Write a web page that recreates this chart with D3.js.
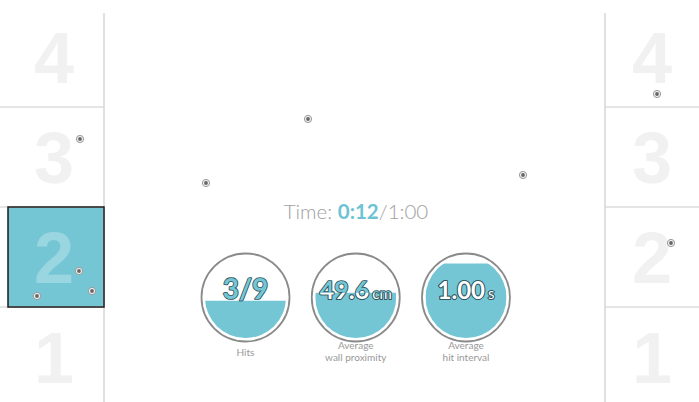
<!DOCTYPE html>
<html><head><meta charset="utf-8">
<script src="https://cdn.jsdelivr.net/npm/d3@7"></script>
<style>body{margin:0;background:#fff}svg{display:block;font-family:Lato,"Open Sans",sans-serif}</style>
</head><body><svg id="c" width="699" height="402"></svg>
<script>
// ---- data ----
const lanes = [4, 3, 2, 1];
const activeLeftLane = 2;
// hit points in court units (x: 0..699, y: 0..402)
const hitPointsX = [80, 79, 92, 37, 308, 206, 523, 657, 671];
const hitPointsY = [139, 271, 291, 296, 119, 183, 175, 94, 243];
const timeElapsed = "0:12";
const timeTotal = "1:00";
const gaugeNames = ["Hits", "Average wall proximity", "Average hit interval"];
const gaugeLabelLines = [["Hits"], ["Average", "wall proximity"], ["Average", "hit interval"]];
const gaugeValues = ["3/9", "49.6", "1.00"];
const gaugeUnits = ["", "cm", "s"];
const gaugeFill = [0.46, 0.56, 0.92];
const gaugeFontSize = [28, 25, 24];

// ---- drawing ----
const W = 699, H = 402;
const teal = "#74c6d5";
const svg = d3.select("#c");
const x = d3.scaleLinear().domain([0, 699]).range([0, W]);
const y = d3.scaleLinear().domain([0, 402]).range([0, H]);
const laneY = d3.scaleBand().domain(lanes).range([7, 407]);
const sides = [{name: "left", x0: 0, x1: 104}, {name: "right", x0: 605, x1: 699}];

sides.forEach(s => {
  const g = svg.append("g");
  if (s.name === "left") {
    g.append("rect").attr("x", 8).attr("y", laneY(activeLeftLane))
      .attr("width", s.x1 - 8).attr("height", laneY.bandwidth())
      .attr("fill", teal);
  }
  lanes.slice(1).forEach(l => {
    g.append("line").attr("x1", s.x0).attr("x2", s.x1)
      .attr("y1", laneY(l)).attr("y2", laneY(l))
      .attr("stroke", "#dcdcdc").attr("stroke-width", 1.5);
  });
  const vx = s.name === "left" ? s.x1 : s.x0;
  g.append("line").attr("x1", vx).attr("x2", vx).attr("y1", 13).attr("y2", H)
    .attr("stroke", "#d6d6d6").attr("stroke-width", 1.5);
  g.selectAll("text.n").data(lanes).join("text")
    .attr("x", (s.x0 + s.x1) / 2 + (s.name === "left" ? 2 : 0))
    .attr("y", d => laneY(d) + laneY.bandwidth() / 2 + 26)
    .attr("text-anchor", "middle")
    .attr("font-family", "'Liberation Sans', Arial, sans-serif")
    .attr("font-weight", 700)
    .attr("font-size", 72)
    .attr("fill", d => (s.name === "left" && d === activeLeftLane) ? "rgba(255,255,255,0.28)" : "#f1f1f1")
    .text(d => d);
  if (s.name === "left") {
    g.append("rect").attr("x", 8).attr("y", laneY(activeLeftLane))
      .attr("width", s.x1 - 8).attr("height", laneY.bandwidth())
      .attr("fill", "none").attr("stroke", "#1a1a1a").attr("stroke-width", 1.5);
  }
});

// points
const pts = svg.append("g").selectAll("g").data(hitPointsX.map((d, i) => [d, hitPointsY[i]])).join("g")
  .attr("transform", d => `translate(${x(d[0])},${y(d[1])})`);
pts.append("circle").attr("r", 3.6).attr("fill", "#f2f2f2").attr("stroke", "#999").attr("stroke-width", 1);
pts.append("circle").attr("r", 1.9).attr("fill", "#666");

// time
const t = svg.append("text").attr("x", 356).attr("y", 219).attr("text-anchor", "middle")
  .attr("font-size", 20.5).attr("fill", "#a0a0a0").attr("font-weight", 300);
t.append("tspan").text("Time: ");
t.append("tspan").attr("font-weight", 700).attr("fill", "#6cc3d3").text(timeElapsed);
t.append("tspan").text("/" + timeTotal);

// gauges
const gx = d3.scalePoint().domain(gaugeNames).range([245.5, 466]);
const gcy = 297.5, R = 44, r = 40.5;
const fillY = d3.scaleLinear().domain([0, 1]).range([gcy + r, gcy - r]);
const defs = svg.append("defs");
gaugeNames.forEach((name, i) => {
  const cx = gx(name);
  const g = svg.append("g");
  g.append("circle").attr("cx", cx).attr("cy", gcy).attr("r", R)
    .attr("fill", "#fff").attr("stroke", "#8a8a8a").attr("stroke-width", 1.8);
  const cid = "clip" + i;
  defs.append("clipPath").attr("id", cid).append("rect")
    .attr("x", cx - r).attr("y", fillY(gaugeFill[i])).attr("width", 2 * r)
    .attr("height", gcy + r - fillY(gaugeFill[i]));
  g.append("circle").attr("cx", cx).attr("cy", gcy).attr("r", r)
    .attr("fill", teal).attr("clip-path", `url(#${cid})`);
  const mk = (fill, clip) => {
    const tx = g.append("text").attr("x", cx).attr("y", 299).attr("text-anchor", "middle")
      .attr("font-weight", 700).attr("fill", fill)
      .attr("stroke", "#2e525a").attr("stroke-width", 1.7).attr("stroke-linejoin", "round")
      .attr("paint-order", "stroke");
    if (clip) tx.attr("clip-path", `url(#${cid})`);
    tx.append("tspan").attr("font-size", gaugeFontSize[i]).text(gaugeValues[i]);
    if (gaugeUnits[i]) tx.append("tspan").attr("dx", 3).attr("font-size", 15).attr("font-weight", 400).text(gaugeUnits[i]);
  };
  mk(teal, false);
  mk("#fff", true);
  const lines = gaugeLabelLines[i];
  const lab = g.append("text").attr("text-anchor", "middle").attr("font-size", 10).attr("fill", "#999");
  lines.forEach((ln, j) => {
    lab.append("tspan").attr("x", cx)
      .attr("y", (lines.length === 1 ? 356 : 348.5) + j * 12.5).text(ln);
  });
});
</script></body></html>
